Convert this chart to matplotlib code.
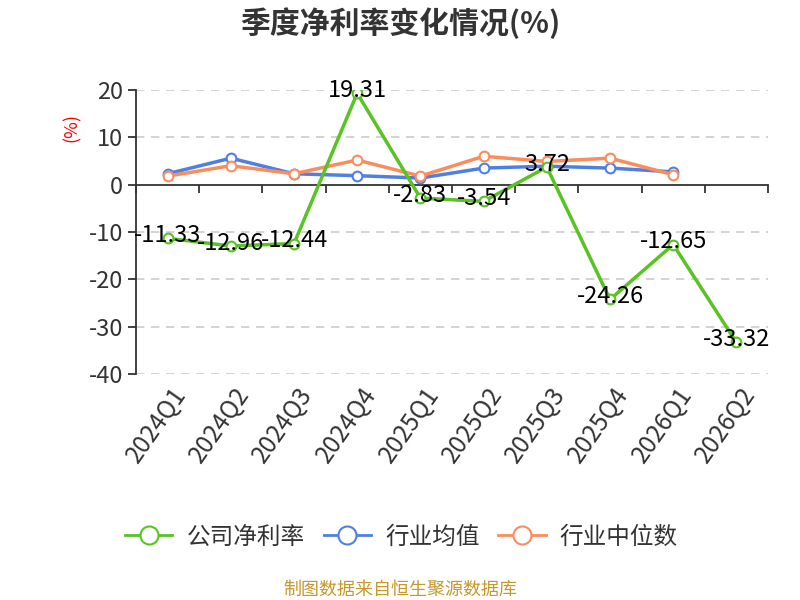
import numpy as np
import matplotlib
matplotlib.use('Agg')
import matplotlib.pyplot as plt
from matplotlib.lines import Line2D

plt.rcParams['font.family'] = ['Noto Sans CJK SC', 'DejaVu Sans']
plt.rcParams['axes.unicode_minus'] = False

# Данные
quarters = ['2024Q1', '2024Q2', '2024Q3', '2024Q4', '2025Q1',
            '2025Q2', '2025Q3', '2025Q4', '2026Q1', '2026Q2']
company = [-11.33, -12.96, -12.44, 19.31, -2.83, -3.54, 3.72, -24.26, -12.65, -33.32]
ind_mean = [2.3, 5.6, 2.3, 1.9, 1.4, 3.5, 3.9, 3.5, 2.7]
ind_median = [1.8, 4.0, 2.3, 5.2, 1.8, 6.0, 4.9, 5.6, 2.1]

c_green = '#58c322'
c_blue = '#4f80e1'
c_orange = '#fb8c5c'
txt = '#333333'

fig = plt.figure(figsize=(8, 6), dpi=100)
ax = fig.add_axes([0.17, 0.3767, 0.79, 0.4733])

x = np.arange(len(quarters))
ax.set_xlim(-0.5, len(quarters) - 0.5)
ax.set_ylim(-40, 20)

# сетка
for v in [20, 10, -10, -20, -30, -40]:
    ax.axhline(v, color='#cccccc', lw=1.2, ls=(0, (5, 4)), zorder=0)

mk = dict(marker='o', markersize=7, markerfacecolor='white', markeredgewidth=1.5)
ax.plot(x[:len(ind_mean)], ind_mean, color=c_blue, lw=2.5, zorder=3, **mk)
ax.plot(x[:len(ind_median)], ind_median, color=c_orange, lw=2.5, zorder=4, **mk)
ax.plot(x, company, color=c_green, lw=2.5, zorder=5, **mk)

for xi, v in zip(x, company):
    ax.text(xi, v + 0.6, f'{v:.2f}', ha='center', va='center', fontsize=17,
            color='black', zorder=6)

# оси
for s in ['top', 'right']:
    ax.spines[s].set_visible(False)
ax.spines['bottom'].set_position(('data', 0))
ax.spines['bottom'].set_color(txt)
ax.spines['bottom'].set_linewidth(1.3)
ax.spines['left'].set_color(txt)
ax.spines['left'].set_linewidth(1.3)

ax.set_xticks(np.arange(len(quarters) + 1) - 0.5)
ax.set_xticklabels([])
ax.tick_params(axis='x', length=6, width=1.3, color=txt)
ax.set_yticks([20, 10, 0, -10, -20, -30, -40])
ax.tick_params(axis='y', length=6, width=1.3, color=txt, labelsize=17, labelcolor=txt)

for xi, q in zip(x, quarters):
    ax.text(xi + 0.05, -0.03, q, transform=ax.get_xaxis_transform(), rotation=55,
            rotation_mode='anchor', ha='right', va='top', fontsize=17.5, color=txt)

fig.text(0.09, 0.788, '(%)', rotation=90, color='red', fontsize=13,
         ha='center', va='center')

fig.text(0.5, 0.962, '季度净利率变化情况(%)', ha='center', va='center',
         fontsize=21.5, fontweight='bold', color=txt)

handles = [Line2D([0], [0], color=c, lw=2, marker='o', markersize=13,
                  markerfacecolor='white', markeredgewidth=1.5)
           for c in [c_green, c_blue, c_orange]]
fig.legend(handles, ['公司净利率', '行业均值', '行业中位数'], loc='center',
           bbox_to_anchor=(0.502, 0.105), ncol=3, frameon=False, fontsize=17,
           handlelength=2.0, columnspacing=0.8, handletextpad=0.6,
           labelcolor=txt)

fig.text(0.5, 0.018, '制图数据来自恒生聚源数据库', ha='center', va='center',
         fontsize=13, color='#c8962a')

fig.savefig('out.png', dpi=100)
